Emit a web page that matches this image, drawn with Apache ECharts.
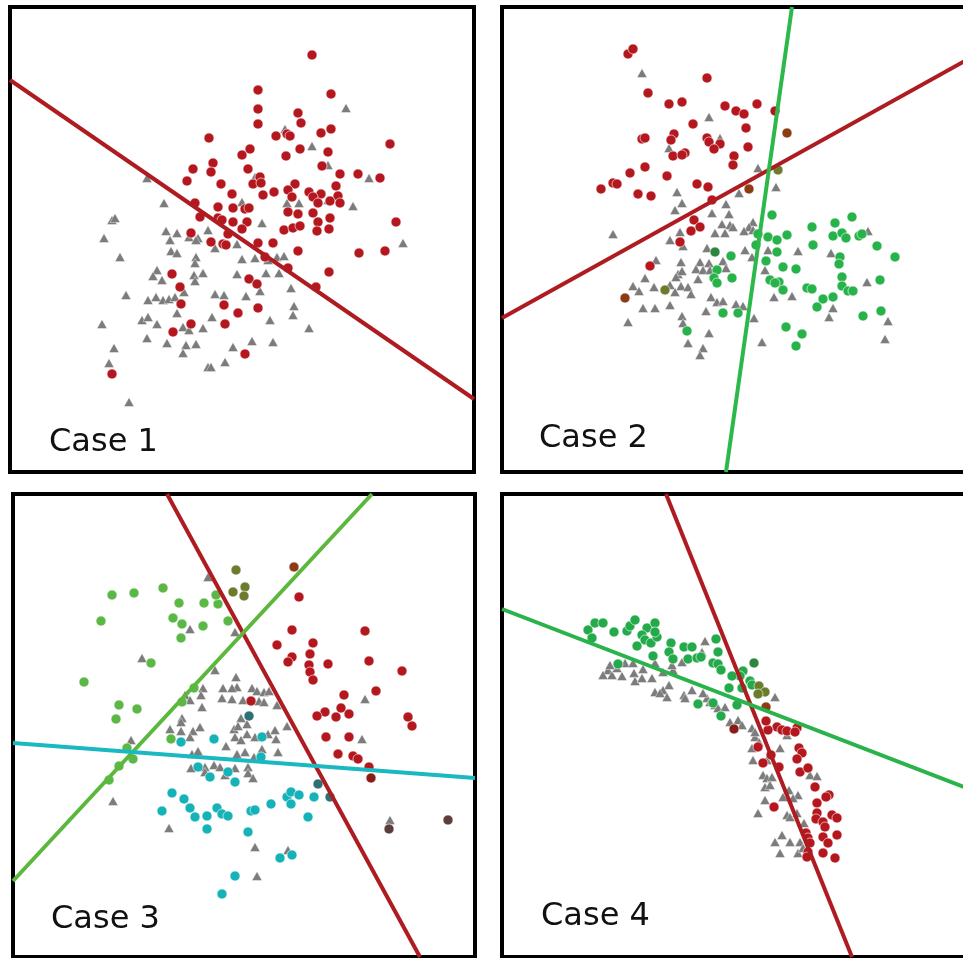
<!DOCTYPE html>
<html>
<head>
<meta charset="utf-8">
<script src="https://cdn.jsdelivr.net/npm/echarts@6/dist/echarts.min.js"></script>
<style>
  html, body { margin: 0; padding: 0; background: #fff; }
  #chart { width: 963px; height: 958px; }
</style>
</head>
<body>
<div id="chart"></div>
<script>
// Panel labels
const caseLabels = ['Case 1', 'Case 2', 'Case 3', 'Case 4'];

// ---- Case 1: one class against the rest, one boundary ----
const case1Red = [[248,382],[248,363],[248,348],[199,334],[240,323],[232,317],[203,309],[201,300],[183,303],[238,303],
  [177,291],[211,288],[243,288],[222,278],[185,269],[208,265],[223,264],[235,263],[239,264],[190,255],[208,254],[212,252],
  [223,250],[237,250],[232,243],[181,239],[218,238],[201,230],[213,228],[216,227],[248,229],[162,198],[239,193],[247,188],
  [170,185],[171,168],[214,167],[248,164],[228,159],[181,148],[215,148],[163,140],[235,118],[102,98],
  [302,417],[321,378],[288,359],[291,349],[266,336],[277,338],[280,336],[311,339],[321,343],[380,328],[290,323],[318,320],
  [276,316],[312,306],[330,298],[348,298],[370,294],[250,295],[251,289],[326,286],[285,288],[278,282],[264,280],[253,277],
  [299,280],[282,275],[311,278],[303,275],[328,276],[320,271],[330,269],[308,269],[278,260],[288,258],[303,259],[320,254],
  [386,250],[308,250],[274,242],[283,244],[290,246],[307,241],[319,243],[263,229],[288,221],[349,219],[375,221],[255,215],
  [278,204],[319,200],[306,185]];
const case1Gray = [[137,294],[154,269],[245,295],[232,270],[102,252],[105,254],[94,234],[156,241],[167,239],[160,232],
  [179,235],[188,234],[198,242],[205,224],[186,232],[227,228],[245,214],[110,215],[161,221],[167,219],[186,215],[185,209],
  [232,213],[147,202],[143,196],[152,192],[184,197],[193,199],[185,191],[227,198],[116,177],[138,172],[146,175],[153,172],
  [159,173],[165,175],[174,180],[205,178],[214,177],[236,176],[167,159],[202,155],[132,152],[138,155],[147,148],[92,148],
  [173,145],[179,142],[193,144],[137,134],[157,129],[176,127],[186,128],[173,119],[223,125],[242,131],[104,124],[99,109],
  [198,105],[201,105],[215,110],[119,70],
  [336,364],[275,343],[302,326],[318,307],[359,294],[277,269],[289,269],[318,272],[343,266],[252,249],[393,229],[258,212],
  [267,215],[274,216],[256,199],[269,199],[250,181],[281,184],[284,166],[283,157],[260,152],[299,144],[263,130]];
const case1Boundary = [[0,392],[464,73]];

// ---- Case 2: two classes, two boundaries ----
const case2Red = [[126,418],[131,423],[205,394],[146,379],[167,368],[180,370],[223,366],[234,361],[242,358],[255,368],
  [273,361],[191,348],[244,344],[140,333],[143,334],[172,338],[169,332],[205,334],[207,330],[218,328],[212,323],[246,325],
  [171,316],[183,319],[180,317],[232,316],[231,307],[143,305],[128,299],[165,296],[111,289],[115,288],[99,283],[136,278],
  [149,276],[195,288],[206,285],[210,272],[192,252],[198,245],[189,241],[178,230],[148,206]];
const case2Green = [[270,257],[256,238],[266,235],[275,232],[285,237],[254,227],[275,220],[229,216],[264,211],[215,202],
  [281,205],[212,194],[215,189],[230,194],[268,192],[277,190],[273,189],[281,182],[221,159],[236,159],[284,145],[185,141],
  [350,255],[333,249],[310,245],[331,236],[340,239],[344,234],[357,236],[360,238],[311,227],[375,226],[393,215],[338,215],
  [337,208],[294,203],[340,195],[378,192],[340,186],[346,181],[351,181],[305,184],[310,183],[321,173],[331,175],[315,165],
  [361,156],[379,161],[300,138],[294,126]];
const case2Brown = [[285,339],[247,283],[123,174]];
const case2Olive = [[276,302],[163,182]];
const case2DarkGreen = [[213,220]];
const case2Gray = [[140,399],[207,355],[218,334],[167,324],[256,304],[175,280],[274,285],[237,279],[180,269],[224,268],
  [173,262],[210,259],[227,258],[220,248],[228,247],[231,245],[251,250],[247,245],[111,238],[178,240],[168,232],[213,239],
  [223,239],[242,241],[181,226],[205,224],[243,222],[154,212],[179,210],[198,210],[207,209],[221,211],[250,215],[194,203],
  [201,202],[208,202],[176,198],[180,201],[224,204],[143,194],[196,193],[174,195],[131,186],[137,181],[152,185],[168,187],
  [179,186],[186,185],[173,180],[189,178],[209,175],[272,175],[141,164],[153,164],[168,167],[215,170],[221,171],[234,168],
  [241,166],[204,161],[180,156],[181,149],[126,150],[252,154],[207,139],[186,129],[201,124],[198,117],[260,130],
  [366,241],[296,221],[329,219],[365,190],[290,176],[331,164],[327,155],[386,151],[383,133],[251,242],[266,222],[263,202]];
const case2RedBoundary = [[0,154],[470,415]];
const case2GreenBoundary = [[290,465],[224,0]];

// ---- Case 3: three classes, three boundaries ----
const case3Green = [[99,362],[121,364],[150,369],[88,336],[166,354],[191,354],[205,353],[203,362],[160,339],[169,333],
  [190,331],[215,336],[168,319],[138,294],[71,275],[106,252],[124,248],[103,238],[181,269],[169,255],[114,209],[120,198],
  [106,191],[96,177],[158,218]];
const case3Olive = [[223,387],[220,365],[232,370],[231,361]];
const case3Brown = [[281,390]];
const case3Red = [[286,360],[279,327],[352,326],[264,312],[300,314],[279,300],[275,295],[297,303],[296,292],[297,285],
  [300,277],[315,293],[356,296],[389,286],[331,262],[363,266],[328,249],[312,245],[304,241],[323,240],[336,243],[395,240],
  [399,231],[313,220],[336,220],[325,203],[340,201],[345,198],[356,190],[238,256]];
const case3DarkRed = [[358,179]];
const case3DarkTeal = [[236,241],[305,173],[317,160]];
const case3DarkBrown = [[376,128],[435,137]];
const case3Cyan = [[201,218],[168,215],[249,220],[248,200],[185,190],[215,185],[197,180],[222,175],[159,164],[171,158],
  [177,149],[149,146],[182,140],[194,141],[204,149],[209,143],[215,141],[194,128],[235,125],[238,146],[242,147],[258,153],
  [274,160],[278,165],[278,153],[286,162],[267,99],[279,102],[222,81],[209,63],[301,160],[295,140]];
const case3Gray = [[195,380],[177,328],[222,325],[129,299],[202,287],[223,280],[224,270],[219,269],[210,269],[190,269],
  [172,262],[177,257],[188,262],[239,269],[244,266],[251,265],[256,266],[209,259],[219,258],[230,257],[246,256],[251,255],
  [189,250],[264,252],[169,239],[168,235],[228,239],[157,228],[168,226],[180,226],[187,230],[177,220],[221,228],[225,231],
  [234,233],[222,220],[234,223],[228,217],[242,220],[255,223],[262,227],[263,218],[274,231],[118,217],[213,211],[179,203],
  [185,206],[224,203],[232,205],[249,208],[265,205],[241,200],[178,189],[192,190],[201,192],[207,190],[222,189],[235,190],
  [192,185],[212,182],[235,184],[240,179],[100,156],[156,129],[242,110],[244,81],[275,107],[352,258],[349,218],[377,137]];
const case3RedBoundary = [[154,463],[407,0]];
const case3GreenBoundary = [[0,76],[359,463]];
const case3CyanBoundary = [[0,214],[462,179]];

// ---- Case 4: two classes along a curved band ----
const case4Green = [[86,327],[93,334],[101,334],[90,319],[112,325],[125,326],[128,331],[133,337],[145,329],[153,334],
  [140,322],[143,317],[149,314],[155,320],[153,325],[135,311],[169,314],[167,305],[182,310],[190,310],[214,318],[151,301],
  [171,298],[186,298],[195,299],[199,300],[216,305],[211,294],[216,293],[219,287],[116,293],[241,286],[238,281],[230,281],
  [248,276],[227,269],[240,269],[196,253],[235,252],[211,254],[219,241],[250,272]];
const case4DarkGreen = [[252,294]];
const case4Olive = [[257,271],[263,265],[256,263]];
const case4Brown = [[264,250]];
const case4DarkRed = [[232,228]];
const case4Red = [[275,230],[266,227],[280,227],[264,236],[285,226],[295,229],[293,225],[256,210],[297,209],[300,204],
  [295,198],[269,202],[261,194],[277,190],[298,185],[306,189],[313,170],[327,162],[324,160],[315,154],[272,150],[315,144],
  [330,142],[335,139],[314,138],[321,135],[323,130],[335,122],[304,124],[306,119],[308,114],[321,120],[326,114],[306,105],
  [321,104],[305,100],[333,99]];
const case4Gray = [[106,287],[101,282],[110,282],[120,281],[115,289],[123,294],[108,292],[132,284],[133,276],[140,279],
  [150,279],[141,288],[131,294],[153,294],[161,285],[171,287],[170,292],[167,272],[153,265],[161,267],[165,260],[158,264],
  [180,295],[200,305],[203,316],[182,262],[190,267],[183,259],[205,259],[201,264],[208,255],[213,252],[216,249],[223,250],
  [228,235],[236,237],[240,232],[250,229],[253,220],[273,260],[253,225],[285,222],[250,209],[257,215],[278,209],[251,197],
  [265,197],[261,182],[265,179],[270,180],[308,182],[315,181],[263,170],[268,172],[287,167],[296,162],[291,159],[263,157],
  [281,160],[256,144],[285,142],[288,140],[295,144],[302,134],[280,122],[273,115],[288,115],[298,115],[278,104],[296,104],
  [301,109]];
const case4RedBoundary = [[164,463],[350,0]];
const case4GreenBoundary = [[0,348],[470,167]];

// ---- Styling ----
const COL = {
  red: '#b5171f', redLine: '#ae1b21', gray: '#7c7c7c',
  green2: '#27b34a', green2Line: '#2cb84b',
  green3: '#5cb846', green3Line: '#5bb83d', cyan: '#15b3b8', cyanLine: '#1ab8c0',
  green4: '#24aa4b', green4Line: '#2ab34a',
  brown: '#8c3b12', olive: '#6b7d2c', darkGreen: '#2f8540', darkRed: '#8a1c16',
  darkTeal: '#2d6f72', darkBrown: '#5b3d3d'
};

// The right-hand frames run past the page edge, so their right side is not seen
const panels = [
  { left: 10,  top: 7,   width: 464, height: 465 },
  { left: 502, top: 7,   width: 470, height: 465 },
  { left: 13,  top: 494, width: 462, height: 463 },
  { left: 502, top: 494, width: 470, height: 463 }
];

function dots(idx, data, color) {
  return {
    type: 'scatter', xAxisIndex: idx, yAxisIndex: idx, data: data,
    symbol: 'circle', symbolSize: 10, z: 3,
    itemStyle: { color: color, borderColor: '#ffffff', borderWidth: 0.6, opacity: 1 }
  };
}
function tris(idx, data) {
  return {
    type: 'scatter', xAxisIndex: idx, yAxisIndex: idx, data: data,
    symbol: 'triangle', symbolSize: [10, 9], z: 2,
    itemStyle: { color: COL.gray, borderColor: '#ffffff', borderWidth: 0.4, opacity: 1 }
  };
}
function boundary(idx, data, color) {
  return {
    type: 'line', xAxisIndex: idx, yAxisIndex: idx, data: data,
    symbol: 'none', clip: true, z: 4, silent: true,
    lineStyle: { color: color, width: 4 }
  };
}

const grids = panels.map(p => ({
  left: p.left, top: p.top, width: p.width, height: p.height,
  outerBoundsMode: 'none', containLabel: false,
  show: true, borderColor: '#000', borderWidth: 4, backgroundColor: 'transparent'
}));
const xAxes = panels.map((p, i) => ({ type: 'value', gridIndex: i, min: 0, max: p.width, show: false }));
const yAxes = panels.map((p, i) => ({ type: 'value', gridIndex: i, min: 0, max: p.height, show: false }));

const series = [
  tris(0, case1Gray), dots(0, case1Red, COL.red), boundary(0, case1Boundary, COL.redLine),

  tris(1, case2Gray), dots(1, case2Red, COL.red), dots(1, case2Green, COL.green2),
  dots(1, case2Brown, COL.brown), dots(1, case2Olive, COL.olive), dots(1, case2DarkGreen, COL.darkGreen),
  boundary(1, case2RedBoundary, COL.redLine), boundary(1, case2GreenBoundary, COL.green2Line),

  tris(2, case3Gray), dots(2, case3Green, COL.green3), dots(2, case3Red, COL.red), dots(2, case3Cyan, COL.cyan),
  dots(2, case3Olive, COL.olive), dots(2, case3Brown, COL.brown), dots(2, case3DarkRed, COL.darkRed),
  dots(2, case3DarkTeal, COL.darkTeal), dots(2, case3DarkBrown, COL.darkBrown),
  boundary(2, case3RedBoundary, COL.redLine), boundary(2, case3GreenBoundary, COL.green3Line),
  boundary(2, case3CyanBoundary, COL.cyanLine),

  tris(3, case4Gray), dots(3, case4Green, COL.green4), dots(3, case4Red, COL.red),
  dots(3, case4DarkGreen, COL.darkGreen), dots(3, case4Olive, COL.olive), dots(3, case4Brown, COL.brown),
  dots(3, case4DarkRed, COL.darkRed),
  boundary(3, case4RedBoundary, COL.redLine), boundary(3, case4GreenBoundary, COL.green4Line)
];

const labelPos = [[49, 446], [539, 442], [51, 923], [541, 920]];
const graphic = caseLabels.map((t, i) => ({
  type: 'text', left: labelPos[i][0], top: labelPos[i][1] - 19, z: 10,
  style: { text: t, font: '32px "DejaVu Sans"', fill: '#111' }
}));

const chart = echarts.init(document.getElementById('chart'), null, { renderer: 'canvas' });
chart.setOption({
  animation: false,
  backgroundColor: '#ffffff',
  grid: grids, xAxis: xAxes, yAxis: yAxes,
  series: series,
  graphic: graphic
});
</script>
</body>
</html>
